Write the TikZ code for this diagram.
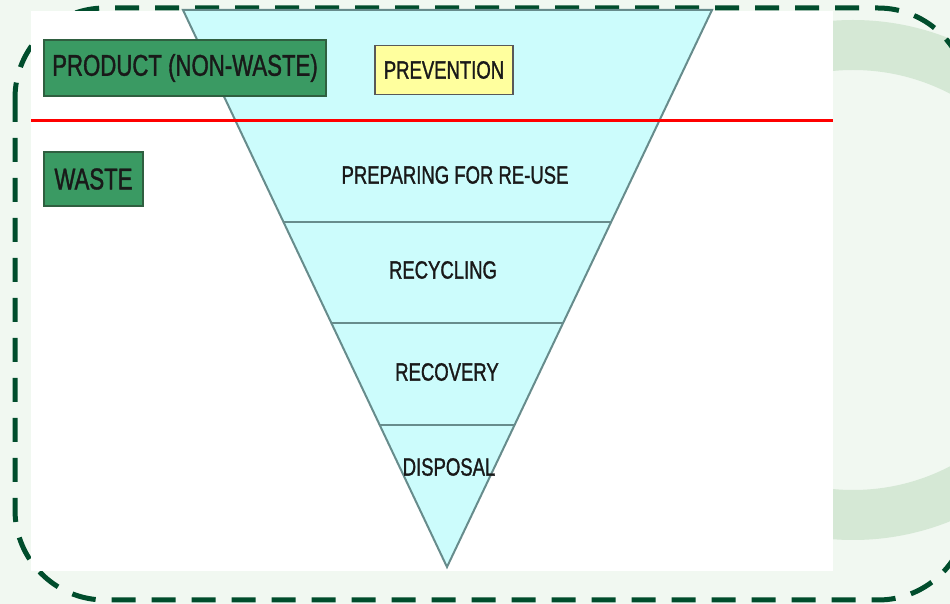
\documentclass[tikz,border=0pt]{standalone}
\usepackage{fontspec}
\setmainfont{Liberation Sans}
\newfontfamily\narrowfont[FakeStretch=0.74, FakeBold=1.2]{Liberation Sans}
\usetikzlibrary{calc}

\definecolor{pagebg}{HTML}{F1F8F1}
\definecolor{ringgreen}{HTML}{D5E8D5}
\definecolor{framegreen}{HTML}{004D2C}
\definecolor{boxgreen}{HTML}{3A9A63}
\definecolor{boxedge}{HTML}{2F5F40}
\definecolor{pyramidfill}{HTML}{CCFCFC}
\definecolor{pyramidedge}{HTML}{678C8C}
\definecolor{prevfill}{HTML}{FFFF9E}

\tikzset{
  tag/.style={draw=boxedge, line width=1pt, fill=boxgreen, inner sep=0pt,
    font=\narrowfont\fontsize{15}{15}\selectfont, text=black!90},
  stagetext/.style={font=\narrowfont\fontsize{12.5}{12.5}\selectfont, text=black!90},
}

\begin{document}
\begin{tikzpicture}[x=0.5pt, y=-0.5pt]

  % Page and background
  \useasboundingbox (0,0) rectangle (950,604);
  \fill[pagebg] (0,0) rectangle (950,604);

  % Decorative ring on the right
  \fill[ringgreen, even odd rule] (853,280) circle (260) (853,280) circle (210);

  % Dashed frame
  \draw[framegreen, line width=2.5pt, dash pattern=on 12pt off 8pt, rounded corners=45pt]
    (15,8) rectangle (968,600);

  % White picture area
  \fill[white] (31,11) rectangle (833,571);

  % Vertices of the inverted triangle
  \coordinate (TL) at (183,10);
  \coordinate (TR) at (712,10);
  \coordinate (Apex) at (447,567);

  % Draw the triangle
  \draw[pyramidedge, line width=1pt, fill=pyramidfill] (TL) -- (TR) -- (Apex) -- cycle;

  % Dividing lines between the levels
  \foreach \t in {0.3806, 0.5619, 0.7451} {
    \draw[pyramidedge, line width=1.2pt] ($(TL)!\t!(Apex)$) -- ($(TR)!\t!(Apex)$);
  }

  % Red line between product and waste
  \draw[red, line width=1.5pt] (31,121) -- (833,121);

  % Side labels
  \node[tag, minimum width=141pt, minimum height=28pt] (product) at (185,68) {PRODUCT (NON-WASTE)};
  \node[tag, minimum width=49.5pt, minimum height=27pt] (waste) at (93.5,179) {WASTE};

  % Levels of the hierarchy
  \node[draw=gray!70!black, line width=0.8pt, fill=prevfill, minimum width=69pt, minimum height=24.5pt,
    inner sep=0pt, stagetext] (prevention) at (444,70) {PREVENTION};
  \node[stagetext] (reuse) at (455,175) {PREPARING FOR RE-USE};
  \node[stagetext] (recycling) at (443,270) {RECYCLING};
  \node[stagetext] (recovery) at (447,372) {RECOVERY};
  \node[stagetext] (disposal) at (449,467) {DISPOSAL};

\end{tikzpicture}
\end{document}
